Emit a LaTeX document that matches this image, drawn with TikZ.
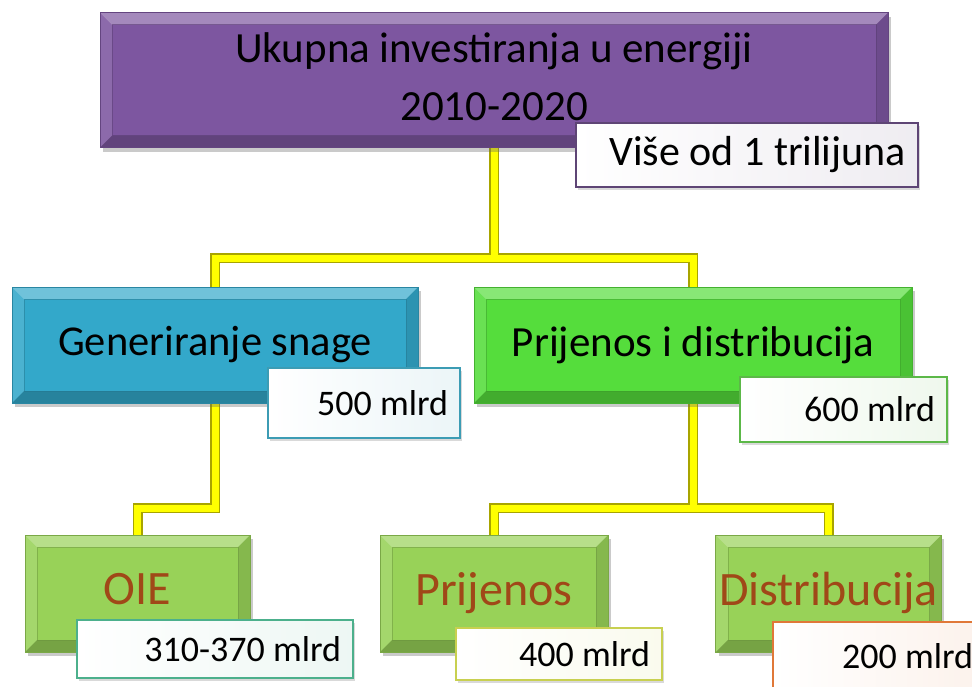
\documentclass[tikz,border=0pt]{standalone}
\usepackage{fontspec}
\setmainfont{Carlito}
\usetikzlibrary{shadows,backgrounds}
\definecolor{cPurple}{HTML}{7D56A0}
\definecolor{cCyan}{HTML}{33A8CA}
\definecolor{cGreen}{HTML}{55DD3C}
\definecolor{cLime}{HTML}{98D258}
\definecolor{cBrown}{HTML}{A04818}
\definecolor{cOlive}{HTML}{A8A400}
\definecolor{cYellow}{HTML}{FFFF00}
\definecolor{bPurple}{HTML}{5E4575}
\definecolor{bTeal}{HTML}{3C9CB4}
\definecolor{bGreen}{HTML}{5CB848}
\definecolor{bSea}{HTML}{4CB08C}
\definecolor{bYel}{HTML}{C8D050}
\definecolor{bOrange}{HTML}{E07838}
\tikzset{
  bevelbox/.style={rectangle, draw=#1!80!black, line width=0.6pt, fill=#1,
    drop shadow={shadow xshift=3pt, shadow yshift=-4pt, opacity=0.35, fill=black!60},
    path picture={
      \fill[white,opacity=0.30] (path picture bounding box.north west) -- (path picture bounding box.north east)
        -- ([shift={(-12pt,-12pt)}]path picture bounding box.north east) -- ([shift={(12pt,-12pt)}]path picture bounding box.north west) -- cycle;
      \fill[white,opacity=0.12] (path picture bounding box.north west) -- (path picture bounding box.south west)
        -- ([shift={(12pt,12pt)}]path picture bounding box.south west) -- ([shift={(12pt,-12pt)}]path picture bounding box.north west) -- cycle;
      \fill[black,opacity=0.22] (path picture bounding box.south west) -- (path picture bounding box.south east)
        -- ([shift={(-12pt,12pt)}]path picture bounding box.south east) -- ([shift={(12pt,12pt)}]path picture bounding box.south west) -- cycle;
      \fill[black,opacity=0.12] (path picture bounding box.north east) -- (path picture bounding box.south east)
        -- ([shift={(-12pt,12pt)}]path picture bounding box.south east) -- ([shift={(-12pt,-12pt)}]path picture bounding box.north east) -- cycle;
      \draw[#1!70!black,opacity=0.5,line width=0.5pt] ([shift={(12pt,-12pt)}]path picture bounding box.north west) rectangle ([shift={(-12pt,12pt)}]path picture bounding box.south east);
    }},
  valbox/.style={rectangle, draw=#1, line width=1.3pt, left color=white, right color=#1!10,
    inner xsep=12pt, inner ysep=0pt, align=flush right, font=\fontsize{36}{40}\selectfont,
    drop shadow={shadow xshift=2pt, shadow yshift=-3pt, opacity=0.25, fill=black!60}},
  connO/.style={draw=cOlive, line width=10pt, line join=miter, line cap=butt},
  connY/.style={draw=cYellow, line width=7pt, line join=miter, line cap=butt},
  childtext/.style={font=\fontsize{48}{52}\selectfont, text=cBrown}
}
\begin{document}
\begin{tikzpicture}[x=1pt,y=-1pt]
\clip (0,0) rectangle (972,686);
\useasboundingbox (0,0) rectangle (972,686);
% main boxes
\node[bevelbox=cPurple, minimum width=788pt, minimum height=135pt, align=center,
  font=\fontsize{43}{58}\selectfont] (top) at (494,80) {\raisebox{6pt}{Ukupna investiranja u energiji}\\\raisebox{6pt}{2010-2020}};
\node[bevelbox=cCyan, minimum width=406pt, minimum height=116pt,
  font=\fontsize{42.5}{48}\selectfont] (gen) at (215,345) {\raisebox{6pt}{Generiranje snage}};
\node[bevelbox=cGreen, minimum width=438pt, minimum height=116pt,
  font=\fontsize{43}{48}\selectfont] (pid) at (693,345) {\raisebox{6pt}{Prijenos i distribucija}};
\node[bevelbox=cLime, minimum width=225pt, minimum height=117pt, childtext] (oie) at (137.5,593.5) {\raisebox{10pt}{OIE}};
\node[bevelbox=cLime, minimum width=228pt, minimum height=117pt, childtext] (pri) at (494,593.5) {\raisebox{10pt}{Prijenos}};
\node[bevelbox=cLime, minimum width=225pt, minimum height=117pt, childtext] (dis) at (828.5,593.5) {\raisebox{10pt}{Distribucija}};
% value boxes
\node[valbox=bPurple, text width=318pt, minimum height=64pt, font=\fontsize{42}{46}\selectfont] (v1) at (747,155) {Više od 1 trilijuna};
\node[valbox=bTeal, text width=168pt, minimum height=70pt] (v2) at (364,403) {500 mlrd};
\node[valbox=bGreen, text width=183pt, minimum height=65pt] (v3) at (843.5,409.5) {600 mlrd};
\node[valbox=bSea, text width=252pt, minimum height=58pt] (v4) at (215,649) {310-370 mlrd};
\node[valbox=bYel, text width=182pt, minimum height=52pt] (v5) at (559,654) {400 mlrd};
\node[valbox=bOrange, text width=188pt, minimum height=68pt] (v6) at (879,656) {200 mlrd};
% connectors
\coordinate (j1) at (494,258);
\coordinate (j2) at (215,508);
\coordinate (j3) at (693,508);
\begin{scope}[on background layer]
\draw[connO] (top.south) -- (top.south |- j1) -| (gen.north);
\draw[connO] (top.south |- j1) -| (pid.north);
\draw[connO] (gen.south) -- (j2) -| (oie.north);
\draw[connO] (pid.south) -- (j3) -| (pri.north);
\draw[connO] (j3) -| (dis.north);
\draw[connY] (top.south) -- (top.south |- j1) -| (gen.north);
\draw[connY] (top.south |- j1) -| (pid.north);
\draw[connY] (gen.south) -- (j2) -| (oie.north);
\draw[connY] (pid.south) -- (j3) -| (pri.north);
\draw[connY] (j3) -| (dis.north);
\end{scope}
\end{tikzpicture}
\end{document}
